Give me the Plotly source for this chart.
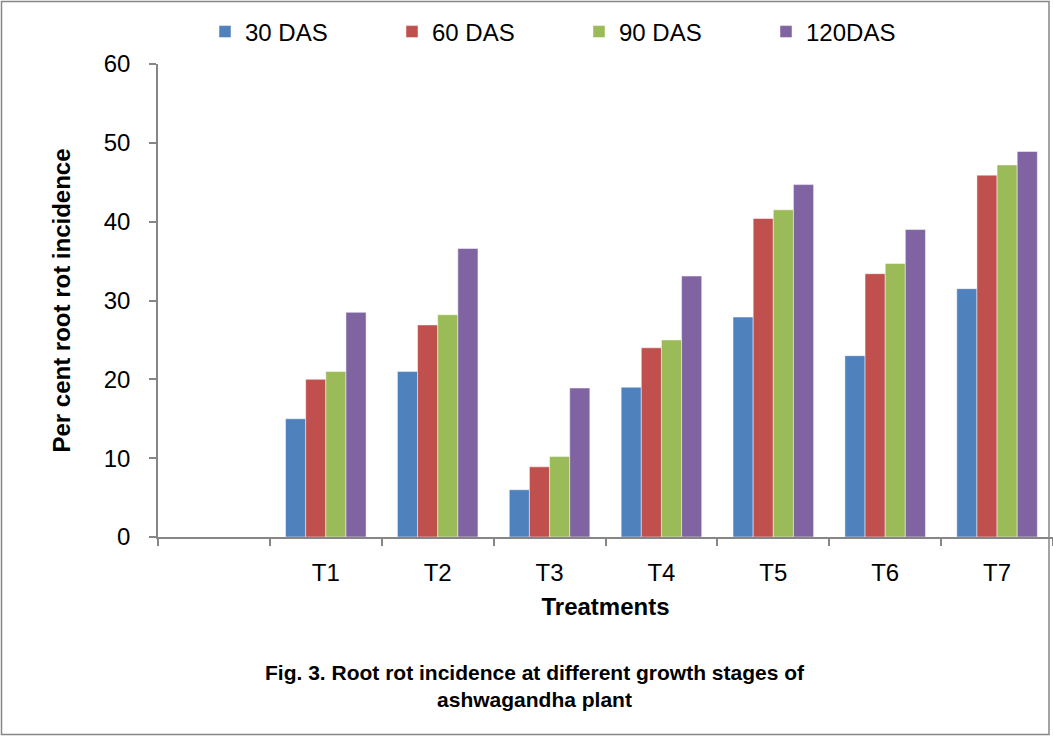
import plotly.graph_objects as go

categories = [" ", "T1", "T2", "T3", "T4", "T5", "T6", "T7"]
treatments = ["T1", "T2", "T3", "T4", "T5", "T6", "T7"]
das30 = [15.0, 21.0, 6.0, 19.0, 27.9, 23.0, 31.5]
das60 = [20.0, 26.9, 8.9, 24.0, 40.4, 33.4, 45.9]
das90 = [21.0, 28.2, 10.2, 25.0, 41.5, 34.7, 47.2]
das120 = [28.5, 36.6, 18.9, 33.1, 44.7, 39.0, 48.9]
series_names = ["30 DAS", "60 DAS", "90 DAS", "120DAS"]
colors = ["#4F81BD", "#C0504D", "#9BBB59", "#8064A2"]

W, H = 1053, 736
ml, mr, mt, mb = 158, 0, 64, 199

fig = go.Figure()
for name, vals, c in zip(series_names, [das30, das60, das90, das120], colors):
    fig.add_trace(go.Bar(x=treatments, y=vals, name=name,
                         marker=dict(color=c, line=dict(color="rgba(255,255,255,0.6)", width=0.8))))

font = "Liberation Sans, Arial, sans-serif"
pw = W - ml - mr
ph = H - mt - mb

fig.update_layout(
    width=W, height=H,
    margin=dict(l=ml, r=mr, t=mt, b=mb, autoexpand=False),
    paper_bgcolor="white", plot_bgcolor="white",
    barmode="group", bargap=0.28, bargroupgap=0,
    font=dict(family=font, size=24, color="black"),
    showlegend=True,
    legend=dict(orientation="h", x=205 / W, xanchor="left", xref="container",
                y=1 - 32 / H, yref="container", yanchor="middle",
                font=dict(size=24), itemwidth=30, entrywidth=142,
                tracegroupgap=0, bgcolor="rgba(0,0,0,0)"),
    xaxis=dict(type="category", categoryorder="array", categoryarray=categories,
               range=[-0.5, 7.5], showline=True, linecolor="#868686", linewidth=1.5,
               ticks="outside", tickson="boundaries", ticklen=7, tickcolor="#868686",
               tickwidth=1.5, showgrid=False, ticklabelstandoff=13,
               tickfont=dict(size=24),
               title=dict(text="<b>Treatments</b>", font=dict(size=24), standoff=14)),
    yaxis=dict(range=[0, 60], tickvals=[0, 10, 20, 30, 40, 50, 60], showline=True,
               linecolor="#868686", linewidth=1.5, ticks="outside", ticklen=7,
               tickcolor="#868686", tickwidth=1.5, showgrid=False, zeroline=False,
               ticklabelstandoff=14, tickfont=dict(size=24),
               title=dict(text="<b>Per cent root rot incidence</b>", font=dict(size=24), standoff=26)),
    annotations=[
        dict(text="<b>Fig. 3. Root rot incidence at different growth stages of<br>ashwagandha plant</b>",
             xref="paper", yref="paper", x=(535 - ml) / pw, y=-(659 - mt - ph) / ph,
             xanchor="center", yanchor="top", showarrow=False, align="center",
             font=dict(size=21)),
    ],
    shapes=[
        dict(type="rect", xref="paper", yref="paper",
             x0=-(ml - 1.5) / pw, x1=(1049 - ml) / pw,
             y0=-(H - 1.5 - mt - ph) / ph, y1=1 + (mt - 1.5) / ph,
             line=dict(color="#868686", width=1.5), fillcolor="rgba(0,0,0,0)", layer="below"),
    ],
)

fig.write_html("out.html")
